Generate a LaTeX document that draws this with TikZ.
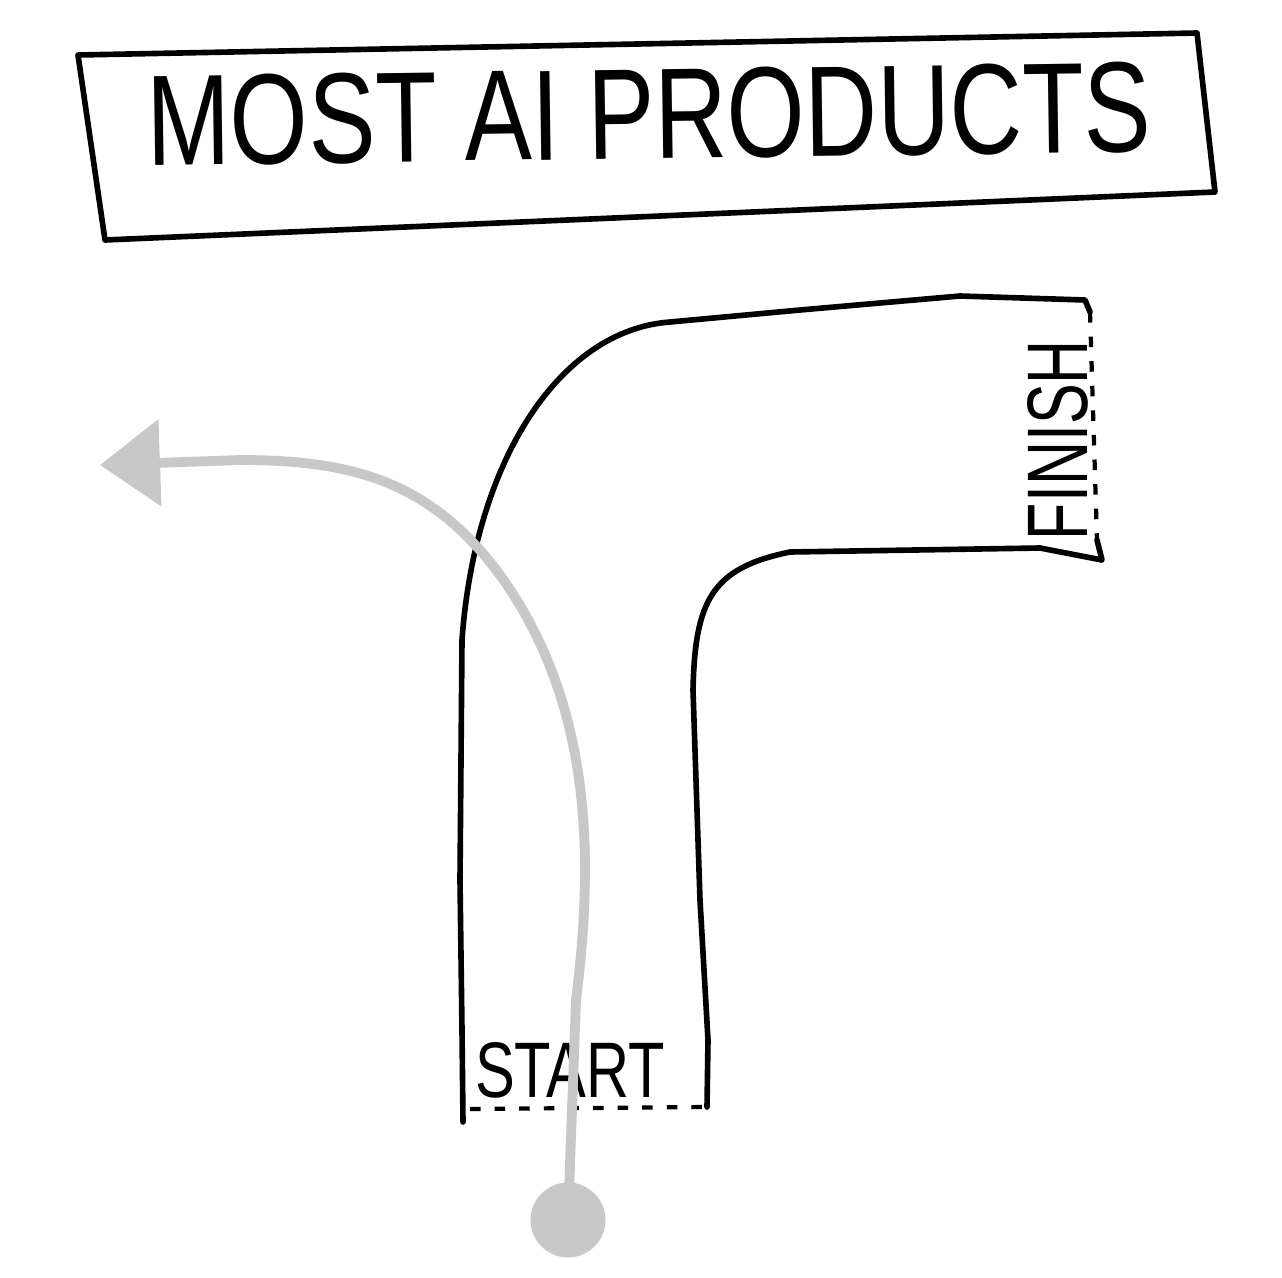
\documentclass[tikz,border=0pt]{standalone}
\usepackage{fontspec}
\setmainfont{Liberation Sans}
\usetikzlibrary{arrows.meta}
\definecolor{pathgray}{RGB}{200,200,200}
\tikzset{
  ink/.style={line width=3.2pt, black, line cap=round, line join=round},
  gapedge/.style={line width=2.4pt, black, dash pattern=on 6pt off 8pt},
  trail/.style={line width=5.6pt, pathgray, line cap=round, line join=round},
  handtext/.style={inner sep=0pt, outer sep=0pt, text=black},
}
\begin{document}
\begin{tikzpicture}[x=0.02cm,y=-0.02cm]
\useasboundingbox[fill=white] (0,0) rectangle (1282,1278);
% title box
\draw[ink] (78,55) -- (1197,33) -- (1215,192) -- (105,240) -- cycle;
\node[handtext, rotate=0.8] (title) at (649,114) {\resizebox{20.1cm}{1.8cm}{MOST AI PRODUCTS}};
% the bent road
\coordinate (sl) at (463,1122);
\coordinate (sr) at (707,1107);
\coordinate (ft) at (1090,312);
\coordinate (fb) at (1097,540);
\draw[ink] (sl) -- (462,1030) -- (460,880) -- (462,640)
  .. controls (475,460) and (560,330) .. (670,322)
  -- (800,310) -- (960,296) -- (1085,300) -- (ft);
\draw[ink] (sr) -- (708,1040) -- (700,900) -- (693,690)
  .. controls (695,600) and (712,568) .. (790,552)
  -- (1040,548) -- (1102,560) -- (fb);
\draw[gapedge] (470,1109) -- (sr);
\draw[gapedge] (ft) -- (fb);
\node[handtext] (start) at (570,1070) {\resizebox{3.8cm}{1.1cm}{START}};
\node[handtext, rotate=90] (finish) at (1058,440) {\resizebox{4.0cm}{1.2cm}{FINISH}};
% grey arrow
\node[circle, fill=pathgray, minimum size=1.5cm, inner sep=0pt] (dot) at (568,1220) {};
\coordinate (tip) at (100,465);
\draw[trail, -{Triangle[length=1.2cm,width=1.7cm]}] (dot.center) -- (576,1000)
  .. controls (595,850) and (590,700) .. (500,575)
  .. controls (430,480) and (350,460) .. (240,460) -- (tip);
\end{tikzpicture}
\end{document}
